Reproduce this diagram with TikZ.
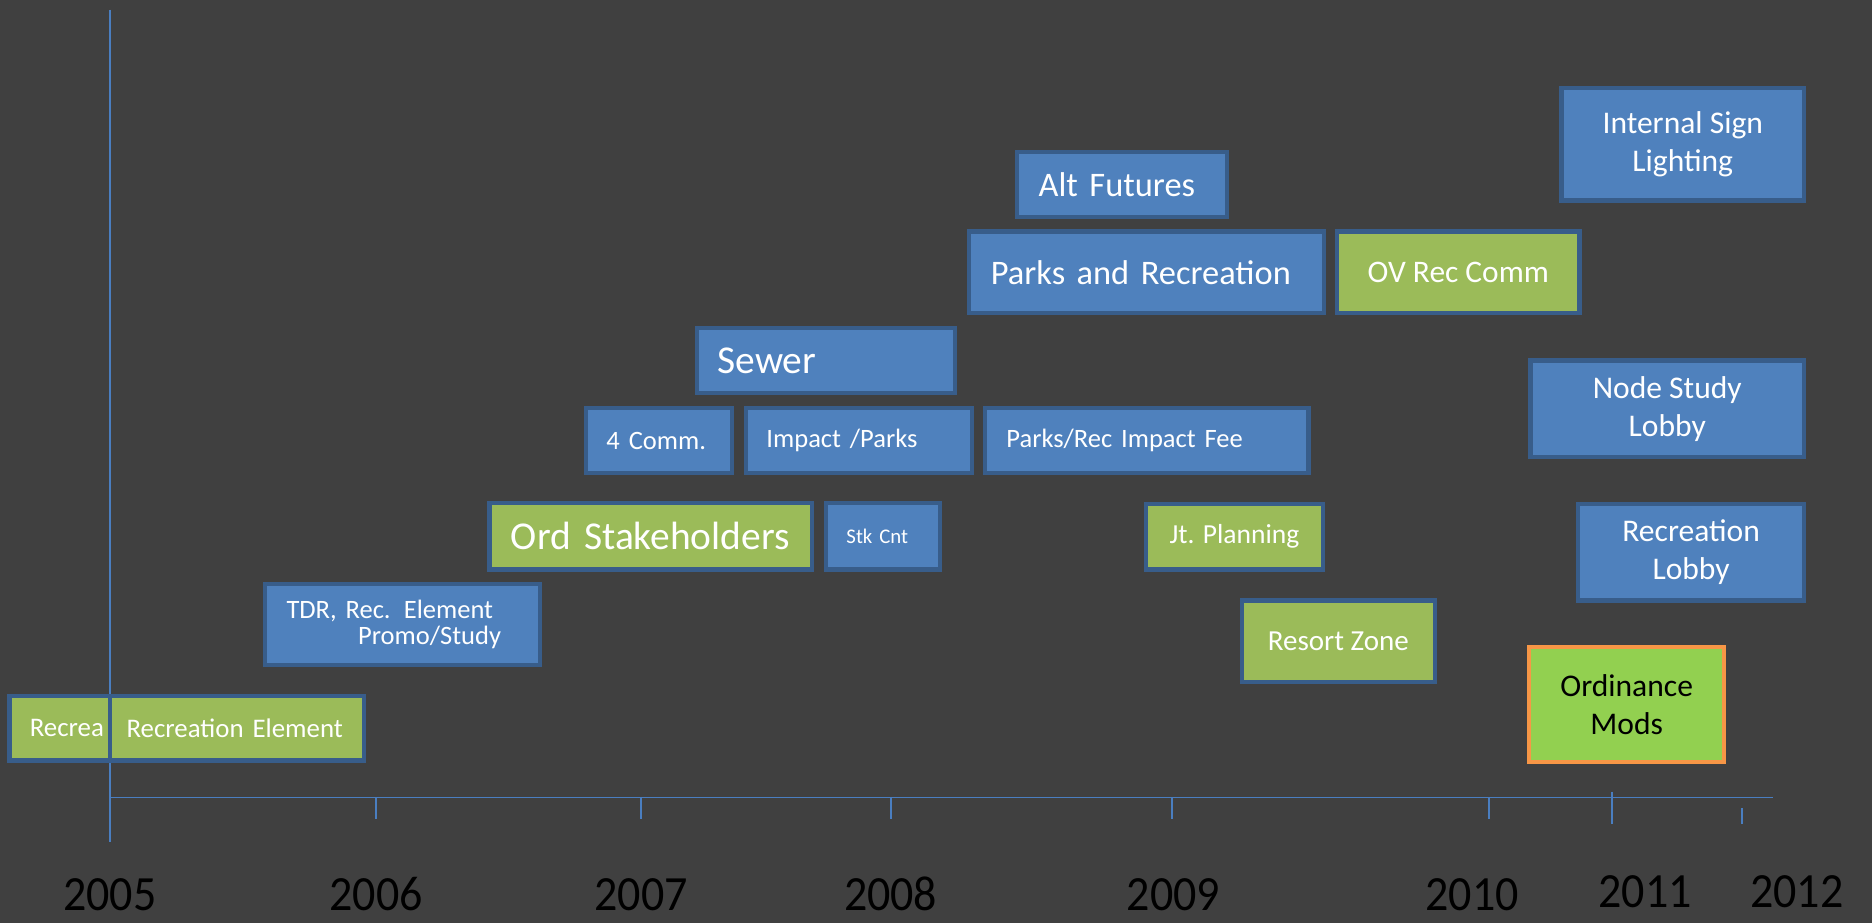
\documentclass[tikz,border=0pt]{standalone}
\usepackage{fontspec}
\setmainfont{Carlito}
\usepackage{graphicx}
\usepackage{tikz}

\definecolor{bgdark}{HTML}{404040}
\definecolor{barblue}{HTML}{4F81BD}
\definecolor{edgeblue}{HTML}{385D8A}
\definecolor{bargreen}{HTML}{9BBB59}
\definecolor{ordgreen}{HTML}{92D050}
\definecolor{ordedge}{HTML}{F79646}
\definecolor{axisblue}{HTML}{4A7EC0}

\tikzset{
  fs/.style 2 args={font=\fontsize{#1}{#2}\selectfont},
  bluebox/.style={rectangle, draw=edgeblue, line width=2.5pt, fill=barblue, text=white, inner sep=0pt},
  greenbox/.style={bluebox, fill=bargreen},
  ordbox/.style={rectangle, draw=ordedge, line width=2.5pt, fill=ordgreen, text=black, inner sep=0pt},
  yearlabel/.style={text=black, inner sep=0pt, fs={27.4}{30}},
  axisline/.style={draw=axisblue, line width=1.1pt}
}

\begin{document}
\begin{tikzpicture}[x=0.025cm, y=-0.025cm]
\fill[bgdark] (0,0) rectangle (1568,773);
\useasboundingbox (0,0) rectangle (1568,773);

% Time axis
\coordinate (axtop) at (92,8);
\coordinate (axbot) at (92,705);
\coordinate (origin) at (92,668);
\coordinate (axend) at (1485,668);
\draw[axisline] (axtop) -- (axbot);
\draw[axisline] (origin) -- (axend);
\foreach \x in {315,537,746,982,1247}
  \draw[axisline] (\x,668) -- (\x,686);
\draw[axisline] (1350,663) -- (1350,690);
\draw[axisline] (1459,677) -- (1459,690);

% Years
\foreach \yr/\x/\y in {2005/92/749,2006/315/749,2007/537/749,2008/746/749,2009/983/749,2010/1233/749,2011/1378/747,2012/1505/747}
  \node[yearlabel] (y\yr) at (\x,\y) {\scalebox{1}[1.07]{\yr}};

% 2005 - 2007
\node[greenbox, minimum width=2.1cm, minimum height=1.35cm, text width=1.25cm, align=left, fs={16}{17}] (recpre) at (50,610) {Recrea};
\node[greenbox, minimum width=5.325cm, minimum height=1.35cm, text width=4.625cm, align=left, fs={16}{17}] (recelem) at (198.5,610) {Recreation Element};
\node[bluebox, minimum width=5.75cm, minimum height=1.7cm, text width=4.85cm, align=left, fs={15.8}{15}] (tdr) at (337,523) {TDR, Rec. Element\\\hspace*{1.5cm}Promo/Study};
\node[greenbox, minimum width=6.75cm, minimum height=1.4cm, text width=5.85cm, align=left, fs={23.5}{26}] (ordstake) at (545,449) {Ord Stakeholders};
\node[bluebox, minimum width=2.375cm, minimum height=1.4cm, text width=1.525cm, align=left, fs={12.4}{14}] (stkcnt) at (739.5,449) {Stk Cnt};

% 2007 - 2009
\node[bluebox, minimum width=3.05cm, minimum height=1.35cm, text width=2.2cm, align=left, fs={15.8}{17}] (comm) at (552,369) {4 Comm.};
\node[bluebox, minimum width=4.725cm, minimum height=1.35cm, text width=3.875cm, align=left, fs={15.8}{17}] (impact) at (719.5,369) {Impact /Parks};
\node[bluebox, minimum width=6.775cm, minimum height=1.35cm, text width=5.875cm, align=left, fs={15.8}{17}] (impactfee) at (960.5,369) {Parks/Rec Impact Fee};
\node[bluebox, minimum width=5.4cm, minimum height=1.35cm, text width=4.55cm, align=left, fs={23.5}{26}] (sewer) at (692,302) {Sewer};
\node[bluebox, minimum width=4.4cm, minimum height=1.375cm, text width=3.5cm, align=left, fs={20.5}{23}] (altfut) at (940,154.5) {Alt Futures};
\node[bluebox, minimum width=7.425cm, minimum height=1.7cm, text width=6.525cm, align=left, fs={20.5}{23}] (parksrec) at (960.5,228) {Parks and Recreation};

% 2009 - 2011
\node[greenbox, minimum width=5.075cm, minimum height=1.7cm, fs={18.7}{21}] (ovrec) at (1221.5,228) {OV Rec Comm};
\node[greenbox, minimum width=3.7cm, minimum height=1.375cm, fs={16.4}{18}] (jtplan) at (1034,449.5) {Jt. Planning};
\node[greenbox, minimum width=4.05cm, minimum height=1.7cm, fs={17.3}{19}] (resort) at (1121,537) {Resort Zone};
\node[bluebox, minimum width=5.075cm, minimum height=2.35cm, align=center, fs={18.8}{22.8}] (signlight) at (1409.5,121) {Internal Sign\\Lighting};
\node[bluebox, minimum width=5.725cm, minimum height=2.025cm, align=center, fs={18.8}{22.8}] (nodestudy) at (1396.5,342.5) {Node Study\\Lobby};
\node[bluebox, minimum width=4.725cm, minimum height=2.025cm, align=center, fs={18.8}{22.8}] (reclobby) at (1416.5,462.5) {Recreation\\Lobby};
\node[ordbox, minimum width=4.075cm, minimum height=2.4cm, align=center, fs={18.8}{22.8}] (ordmods) at (1362.5,590) {Ordinance\\Mods};
\end{tikzpicture}
\end{document}
